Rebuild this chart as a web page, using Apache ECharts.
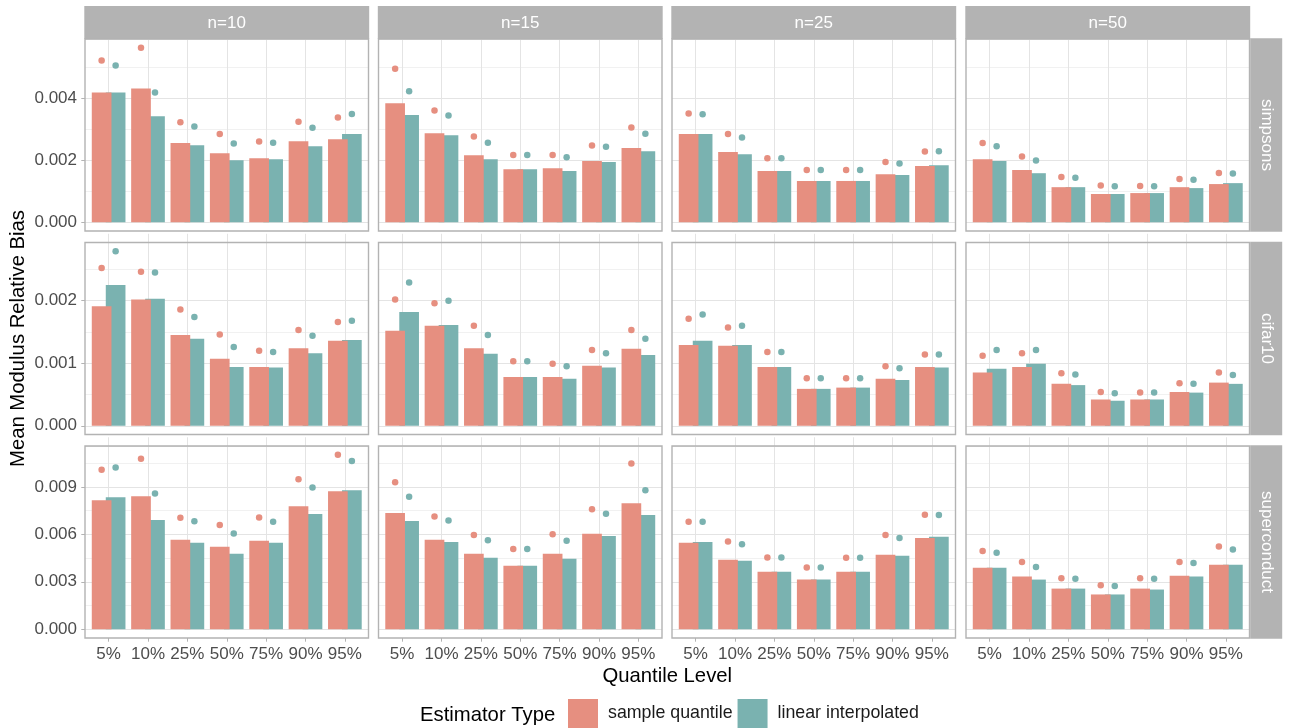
<!DOCTYPE html>
<html>
<head>
<meta charset="utf-8">
<title>Mean Modulus Relative Bias by Quantile Level</title>
<script src="https://cdn.jsdelivr.net/npm/echarts@6/dist/echarts.min.js"></script>
<style>
  html, body { margin: 0; padding: 0; background: #ffffff; }
  #chart { width: 1299px; height: 728px; }
</style>
</head>
<body>
<div id="chart"></div>
<script>
// ---- categories and facet labels ----
const quantileLevels = ['5%', '10%', '25%', '50%', '75%', '90%', '95%'];
const sampleSizes = ['n=10', 'n=15', 'n=25', 'n=50'];
const datasetNames = ['simpsons', 'cifar10', 'superconduct'];
const estimatorNames = ['sample quantile', 'linear interpolated'];

// ---- y tick labels for each row ----
const simpsonsTicks = [0, 0.002, 0.004];
const cifar10Ticks = [0, 0.001, 0.002];
const superconductTicks = [0, 0.003, 0.006, 0.009];

// ---- simpsons: one row per sample size (n=10, 15, 25, 50) ----
const simpsonsBarSample = [
  [0.00418, 0.00431, 0.00255, 0.00222, 0.00206, 0.00261, 0.00267],
  [0.00383, 0.00287, 0.00216, 0.00171, 0.00174, 0.00197, 0.00239],
  [0.00284, 0.00226, 0.00165, 0.00133, 0.00133, 0.00155, 0.00181],
  [0.00203, 0.00168, 0.00113, 0.00091, 0.00094, 0.00113, 0.00123]
];
const simpsonsBarLinear = [
  [0.00418, 0.00341, 0.00248, 0.00200, 0.00203, 0.00245, 0.00284],
  [0.00345, 0.00280, 0.00203, 0.00171, 0.00165, 0.00194, 0.00229],
  [0.00284, 0.00219, 0.00165, 0.00133, 0.00133, 0.00152, 0.00184],
  [0.00197, 0.00158, 0.00113, 0.00091, 0.00094, 0.00110, 0.00126]
];
const simpsonsDotSample = [
  [0.00521, 0.00562, 0.00322, 0.00284, 0.00260, 0.00324, 0.00337],
  [0.00494, 0.00360, 0.00276, 0.00217, 0.00217, 0.00247, 0.00305],
  [0.00350, 0.00284, 0.00206, 0.00168, 0.00168, 0.00194, 0.00228],
  [0.00255, 0.00212, 0.00146, 0.00118, 0.00117, 0.00139, 0.00159]
];
const simpsonsDotLinear = [
  [0.00505, 0.00418, 0.00308, 0.00254, 0.00256, 0.00304, 0.00349],
  [0.00422, 0.00344, 0.00256, 0.00217, 0.00209, 0.00243, 0.00285],
  [0.00348, 0.00273, 0.00206, 0.00168, 0.00168, 0.00189, 0.00229],
  [0.00245, 0.00199, 0.00143, 0.00116, 0.00116, 0.00137, 0.00157]
];

// ---- cifar10 ----
const cifar10BarSample = [
  [0.00191, 0.00202, 0.00145, 0.00107, 0.00094, 0.00124, 0.00136],
  [0.00152, 0.00160, 0.00124, 0.00078, 0.00078, 0.00096, 0.00123],
  [0.00129, 0.00128, 0.00094, 0.00059, 0.00061, 0.00075, 0.00094],
  [0.00085, 0.00094, 0.00067, 0.00042, 0.00042, 0.00054, 0.00069]
];
const cifar10BarLinear = [
  [0.00225, 0.00203, 0.00139, 0.00094, 0.00093, 0.00116, 0.00137],
  [0.00182, 0.00161, 0.00115, 0.00078, 0.00075, 0.00093, 0.00113],
  [0.00136, 0.00129, 0.00094, 0.00059, 0.00061, 0.00073, 0.00093],
  [0.00091, 0.00099, 0.00065, 0.00040, 0.00042, 0.00053, 0.00067]
];
const cifar10DotSample = [
  [0.00252, 0.00246, 0.00186, 0.00146, 0.00120, 0.00153, 0.00166],
  [0.00202, 0.00196, 0.00160, 0.00103, 0.00099, 0.00121, 0.00153],
  [0.00171, 0.00157, 0.00118, 0.00076, 0.00076, 0.00095, 0.00114],
  [0.00112, 0.00116, 0.00084, 0.00054, 0.00053, 0.00068, 0.00085]
];
const cifar10DotLinear = [
  [0.00279, 0.00245, 0.00174, 0.00126, 0.00118, 0.00144, 0.00168],
  [0.00229, 0.00200, 0.00145, 0.00103, 0.00095, 0.00116, 0.00139],
  [0.00178, 0.00160, 0.00118, 0.00076, 0.00076, 0.00092, 0.00114],
  [0.00121, 0.00121, 0.00082, 0.00052, 0.00053, 0.00067, 0.00081]
];

// ---- superconduct ----
const superconductBarSample = [
  [0.00816, 0.00841, 0.00565, 0.00521, 0.00559, 0.00778, 0.00872],
  [0.00734, 0.00565, 0.00477, 0.00402, 0.00477, 0.00603, 0.00797],
  [0.00546, 0.00439, 0.00364, 0.00314, 0.00364, 0.00471, 0.00577],
  [0.00389, 0.00333, 0.00257, 0.00220, 0.00257, 0.00339, 0.00408]
];
const superconductBarLinear = [
  [0.00835, 0.00690, 0.00546, 0.00477, 0.00546, 0.00728, 0.00879],
  [0.00684, 0.00552, 0.00452, 0.00402, 0.00446, 0.00590, 0.00722],
  [0.00552, 0.00433, 0.00364, 0.00314, 0.00364, 0.00464, 0.00584],
  [0.00389, 0.00314, 0.00257, 0.00220, 0.00251, 0.00333, 0.00408]
];
const superconductDotSample = [
  [0.01008, 0.01078, 0.00705, 0.00659, 0.00707, 0.00948, 0.01103],
  [0.00929, 0.00713, 0.00596, 0.00508, 0.00600, 0.00759, 0.01048],
  [0.00680, 0.00554, 0.00454, 0.00391, 0.00452, 0.00596, 0.00724],
  [0.00494, 0.00425, 0.00322, 0.00278, 0.00322, 0.00425, 0.00523]
];
const superconductDotLinear = [
  [0.01023, 0.00858, 0.00682, 0.00605, 0.00680, 0.00896, 0.01063],
  [0.00837, 0.00688, 0.00563, 0.00508, 0.00560, 0.00730, 0.00879],
  [0.00680, 0.00538, 0.00454, 0.00391, 0.00452, 0.00577, 0.00722],
  [0.00483, 0.00393, 0.00320, 0.00274, 0.00320, 0.00419, 0.00504]
];

// ---- facet rows assembled from the arrays above ----
const rows = [
  { ticks: simpsonsTicks, bars: [simpsonsBarSample, simpsonsBarLinear], dots: [simpsonsDotSample, simpsonsDotLinear] },
  { ticks: cifar10Ticks, bars: [cifar10BarSample, cifar10BarLinear], dots: [cifar10DotSample, cifar10DotLinear] },
  { ticks: superconductTicks, bars: [superconductBarSample, superconductBarLinear], dots: [superconductDotSample, superconductDotLinear] }
];

// ---- layout and style ----
const FONT = "'Liberation Sans', Arial, Helvetica, sans-serif";
const SMALL = 17;
const LEGEND_TEXT = 17.8;
const TITLE = 20.3;
const COLORS = ['#E68F80', '#7AB2B0'];
const GRID_MAJOR = '#e4e4e4';
const GRID_MINOR = '#f1f1f1';
const FRAME = '#b3b3b3';
const PANEL_LEFT = [85, 378.5, 672, 966];
const PANEL_TOP = [39, 242.5, 446];
const PANEL_W = 283.5;
const PANEL_H = 192;
const ZERO_PAD = PANEL_H * 0.05 / 1.1;       // room under zero (5% expansion)
const BAND = PANEL_W / 7.2;                  // one category unit (0.6 padding each side)
const X_INSET = BAND * 0.1;
const BAR_W = BAND * 0.5;
const DODGE = 14;                            // distance between dodged bar centres
const BAR_GAP = ((DODGE - BAR_W) / BAR_W * 100).toFixed(1) + '%';

const grids = [], xAxes = [], yAxes = [], series = [], graphics = [];

rows.forEach((row, r) => {
  let rowMax = 0;
  row.bars.concat(row.dots).forEach(set => set.forEach(arr => arr.forEach(v => { rowMax = Math.max(rowMax, v); })));
  const yTop = rowMax * 1.05;
  const major = row.ticks[1] - row.ticks[0];
  const minor = major / 2;

  sampleSizes.forEach((n, c) => {
    const left = PANEL_LEFT[c], top = PANEL_TOP[r];
    const plotH = PANEL_H - ZERO_PAD;

    // background grid: horizontal grid lines and y labels, full panel width
    const gBg = grids.length;
    grids.push({ left: left, top: top, width: PANEL_W, height: plotH, containLabel: false });
    xAxes.push({ type: 'value', gridIndex: gBg, show: false, min: 0, max: 1 });
    yAxes.push({
      type: 'value', gridIndex: gBg, position: 'left', min: 0, max: yTop, interval: minor,
      axisLine: { show: false }, axisTick: { show: false }, axisLabel: { show: false },
      splitLine: { show: true, lineStyle: { color: [GRID_MAJOR, GRID_MINOR], width: 1 } }
    });
    if (c === 0) {
      yAxes.push({
        type: 'value', gridIndex: gBg, position: 'left', min: 0, max: yTop, interval: major,
        axisLine: { show: false },
        axisTick: { show: true, length: 3.7, customValues: row.ticks, lineStyle: { color: FRAME, width: 1 } },
        axisLabel: {
          show: true, customValues: row.ticks, margin: 8,
          color: '#4d4d4d', fontSize: SMALL, fontFamily: FONT,
          formatter: v => v.toFixed(3)
        },
        splitLine: { show: false }
      });
    }

    // data grid: inset so category centres follow the 0.6-unit padding
    const gData = grids.length;
    grids.push({ left: left + X_INSET, top: top, width: PANEL_W - 2 * X_INSET, height: plotH, containLabel: false });
    const xIdx = xAxes.length;
    xAxes.push({
      type: 'category', gridIndex: gData, data: quantileLevels, boundaryGap: true,
      position: 'bottom', offset: ZERO_PAD,
      axisLine: { show: false },
      axisTick: { show: true, inside: true, alignWithLabel: true, length: PANEL_H, lineStyle: { color: GRID_MAJOR, width: 1 } },
      axisLabel: {
        show: r === rows.length - 1, margin: 8, interval: 0,
        color: '#4d4d4d', fontSize: SMALL, fontFamily: FONT
      },
      splitLine: { show: false }
    });
    if (r === rows.length - 1) {
      xAxes.push({
        type: 'category', gridIndex: gData, data: quantileLevels, boundaryGap: true,
        position: 'bottom', offset: ZERO_PAD,
        axisLine: { show: false },
        axisTick: { show: true, inside: false, alignWithLabel: true, length: 3.7, lineStyle: { color: FRAME, width: 1 } },
        axisLabel: { show: false }, splitLine: { show: false }
      });
    }
    const yIdx = yAxes.length;
    yAxes.push({ type: 'value', gridIndex: gData, position: 'left', min: 0, max: yTop, show: false, splitLine: { show: false } });

    estimatorNames.forEach((name, k) => {
      series.push({
        name: name, type: 'bar', xAxisIndex: xIdx, yAxisIndex: yIdx,
        data: row.bars[k][c], barWidth: BAR_W, barGap: BAR_GAP,
        itemStyle: { color: COLORS[k] }, z: 3 - k, silent: true
      });
    });
    estimatorNames.forEach((name, k) => {
      series.push({
        name: name, type: 'scatter', xAxisIndex: xIdx, yAxisIndex: yIdx,
        data: row.dots[k][c], symbol: 'circle', symbolSize: 6.5,
        symbolOffset: [k === 0 ? -DODGE / 2 : DODGE / 2, 0],
        itemStyle: { color: COLORS[k], opacity: 1 }, z: 5, silent: true, clip: false
      });
    });

    // panel frame
    graphics.push({
      type: 'rect', shape: { x: left, y: top, width: PANEL_W, height: PANEL_H },
      style: { fill: 'none', stroke: FRAME, lineWidth: 1.4 }, z: 50, silent: true
    });
  });
});

// column strips
sampleSizes.forEach((n, c) => {
  graphics.push({
    type: 'rect', shape: { x: PANEL_LEFT[c] - 0.7, y: 6, width: PANEL_W + 1.4, height: 33 },
    style: { fill: FRAME }, z: 40, silent: true
  });
  graphics.push({
    type: 'text', x: PANEL_LEFT[c] + PANEL_W / 2, y: 23,
    style: { text: n, align: 'center', verticalAlign: 'middle', fill: '#ffffff', fontSize: SMALL, fontFamily: FONT },
    z: 60, silent: true
  });
});

// row strips
datasetNames.forEach((d, r) => {
  graphics.push({
    type: 'rect', shape: { x: PANEL_LEFT[3] + PANEL_W + 0.7, y: PANEL_TOP[r] - 0.7, width: 32, height: PANEL_H + 1.4 },
    style: { fill: FRAME }, z: 40, silent: true
  });
  graphics.push({
    type: 'text', x: PANEL_LEFT[3] + PANEL_W + 17, y: PANEL_TOP[r] + PANEL_H / 2, rotation: -Math.PI / 2,
    style: { text: d, align: 'center', verticalAlign: 'middle', fill: '#ffffff', fontSize: SMALL, fontFamily: FONT },
    z: 60, silent: true
  });
});

// axis titles and legend title
graphics.push({
  type: 'text', x: (PANEL_LEFT[0] + PANEL_LEFT[3] + PANEL_W) / 2, y: 676,
  style: { text: 'Quantile Level', align: 'center', verticalAlign: 'middle', fill: '#000000', fontSize: TITLE, fontFamily: FONT },
  silent: true
});
graphics.push({
  type: 'text', x: 18, y: (PANEL_TOP[0] + PANEL_TOP[2] + PANEL_H) / 2, rotation: Math.PI / 2,
  style: { text: 'Mean Modulus Relative Bias', align: 'center', verticalAlign: 'middle', fill: '#000000', fontSize: TITLE, fontFamily: FONT },
  silent: true
});
graphics.push({
  type: 'text', x: 420, y: 715,
  style: { text: 'Estimator Type', align: 'left', verticalAlign: 'middle', fill: '#000000', fontSize: TITLE, fontFamily: FONT },
  silent: true
});

const chart = echarts.init(document.getElementById('chart'), null, { renderer: 'canvas' });
chart.setOption({
  animation: false,
  backgroundColor: '#ffffff',
  textStyle: { fontFamily: FONT },
  grid: grids,
  xAxis: xAxes,
  yAxis: yAxes,
  series: series,
  graphic: graphics,
  legend: {
    data: estimatorNames.map(n => ({ name: n, icon: 'rect' })),
    left: 568, top: 699, itemWidth: 30, itemHeight: 29, itemGap: 5, padding: 0,
    selectedMode: false,
    textStyle: { fontSize: LEGEND_TEXT, color: '#1a1a1a', fontFamily: FONT, padding: [0, 0, 0, 5] }
  }
});
</script>
</body>
</html>
